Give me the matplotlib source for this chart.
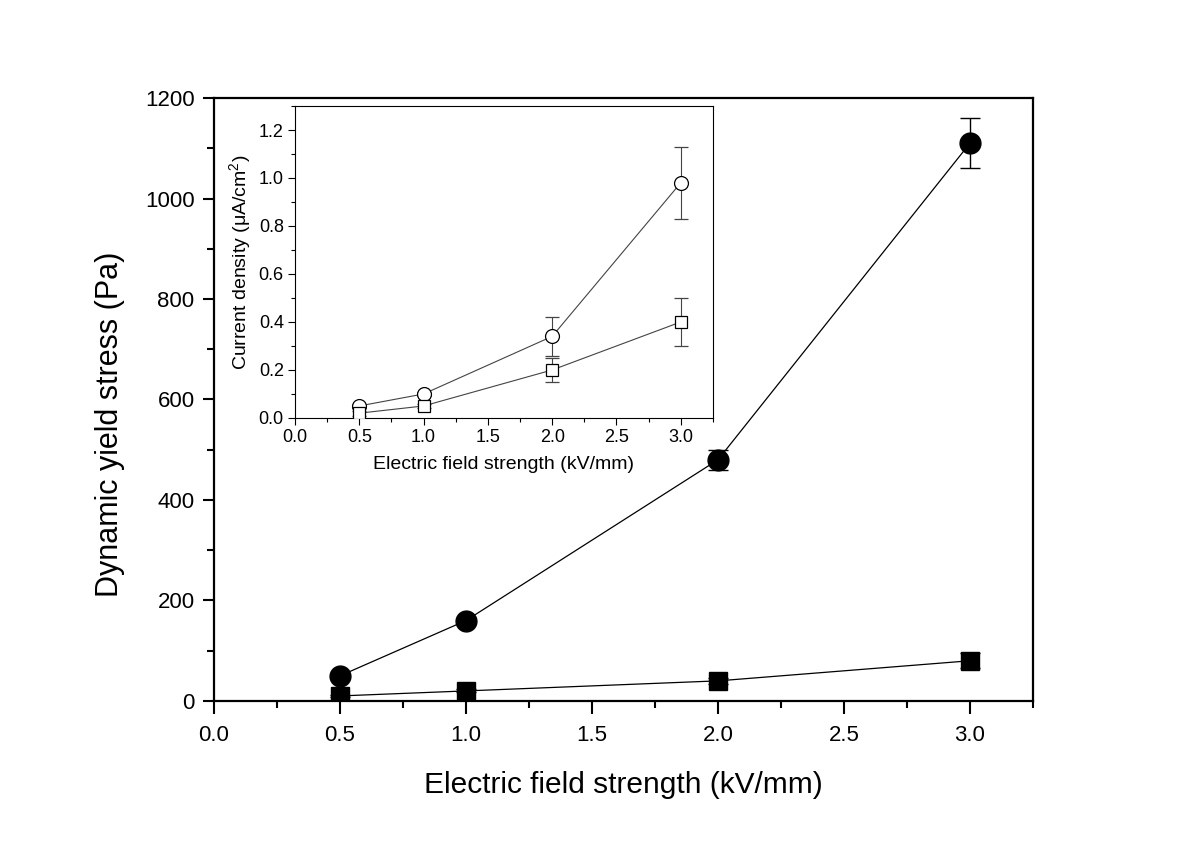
import numpy as np
import matplotlib
matplotlib.use("Agg")
import matplotlib.pyplot as plt
from matplotlib.ticker import MultipleLocator

plt.rcParams['font.family'] = ['Liberation Sans', 'DejaVu Sans']
plt.rcParams['mathtext.fontset'] = 'custom'
plt.rcParams['mathtext.rm'] = 'Liberation Sans'
plt.rcParams['mathtext.default'] = 'regular'

# main plot: dynamic yield stress
field = [0.5, 1.0, 2.0, 3.0]
stress_circle = [50, 160, 480, 1110]
stress_circle_err = [4, 5, 20, 50]
stress_square = [10, 20, 40, 80]
stress_square_err = [2, 3, 6, 15]

# inset: current density
cur_circle = [0.05, 0.10, 0.34, 0.98]
cur_circle_err = [0.01, 0.01, 0.08, 0.15]
cur_square = [0.02, 0.05, 0.20, 0.40]
cur_square_err = [0.01, 0.01, 0.05, 0.10]

fig = plt.figure(figsize=(12, 8.42), dpi=100)
ax = fig.add_axes([0.1783, 0.1675, 0.6825, 0.7161])

ax.errorbar(field, stress_circle, yerr=stress_circle_err, fmt='-o', color='black',
            lw=0.9, ms=15, elinewidth=1, capsize=7, capthick=1, zorder=3)
ax.errorbar(field, stress_square, yerr=stress_square_err, fmt='-s', color='black',
            lw=0.9, ms=13, elinewidth=1, capsize=7, capthick=1, zorder=3)

ax.set_xlim(0, 3.25)
ax.set_ylim(0, 1200)
ax.xaxis.set_major_locator(MultipleLocator(0.5))
ax.xaxis.set_minor_locator(MultipleLocator(0.25))
ax.yaxis.set_major_locator(MultipleLocator(200))
ax.yaxis.set_minor_locator(MultipleLocator(100))
ax.xaxis.set_major_formatter(plt.FormatStrFormatter('%.1f'))
ax.tick_params(which='major', direction='out', length=8, width=1.5, labelsize=16, pad=6)
ax.tick_params(axis='x', which='major', length=9, pad=8)
ax.tick_params(which='minor', direction='out', length=5, width=1.5)
for s in ax.spines.values():
    s.set_linewidth(1.6)
ax.set_xlabel('Electric field strength (kV/mm)', fontsize=21.5, labelpad=18)
ax.set_ylabel('Dynamic yield stress (Pa)', fontsize=22)
ax.yaxis.set_label_coords(-0.1085, 0.459)

# inset
ins = fig.add_axes([0.2458, 0.5036, 0.3483, 0.3705])
ins.errorbar(field, cur_circle, yerr=cur_circle_err, fmt='-o', color='#444444',
             lw=0.8, mfc='white', mec='black', ms=10, mew=0.9, elinewidth=0.8,
             capsize=5, capthick=0.8, zorder=3)
ins.errorbar(field, cur_square, yerr=cur_square_err, fmt='-s', color='#444444',
             lw=0.8, mfc='white', mec='black', ms=9, mew=0.9, elinewidth=0.8,
             capsize=5, capthick=0.8, zorder=3)
ins.set_xlim(0, 3.25)
ins.set_ylim(0, 1.3)
ins.xaxis.set_major_locator(MultipleLocator(0.5))
ins.xaxis.set_minor_locator(MultipleLocator(0.25))
ins.yaxis.set_major_locator(MultipleLocator(0.2))
ins.yaxis.set_minor_locator(MultipleLocator(0.1))
ins.xaxis.set_major_formatter(plt.FormatStrFormatter('%.1f'))
ins.yaxis.set_major_formatter(plt.FormatStrFormatter('%.1f'))
ins.tick_params(which='major', direction='out', length=5, width=0.8, labelsize=13, pad=3)
ins.tick_params(which='minor', direction='out', length=3, width=0.8)
for s in ins.spines.values():
    s.set_linewidth(0.8)
ins.set_xlabel('Electric field strength (kV/mm)', fontsize=14, labelpad=7)
ins.set_ylabel('Current density (μA/cm$^{2}$)', fontsize=14, labelpad=4)

fig.savefig('out.png', dpi=100)
